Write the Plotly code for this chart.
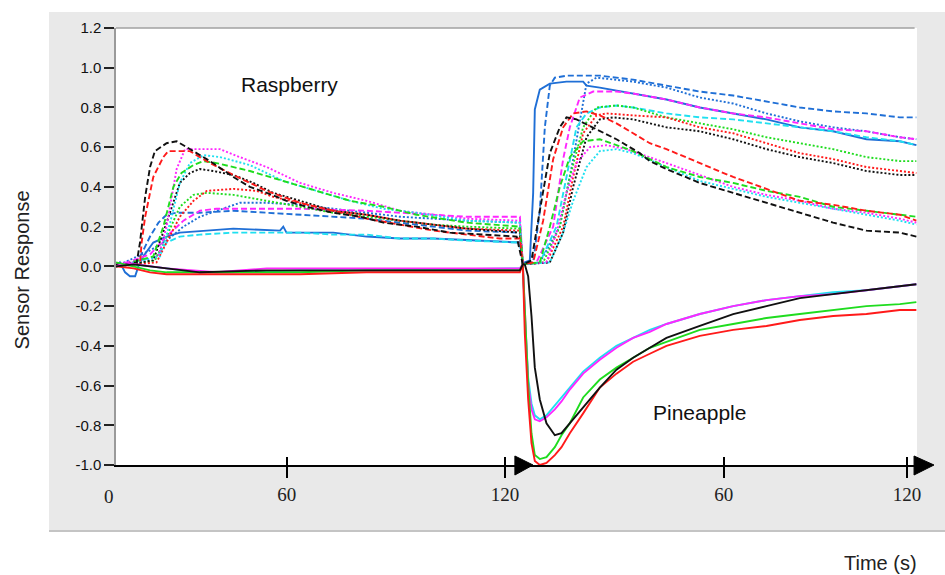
import plotly.graph_objects as go

# ---------------- data (time in s, response) ----------------
PINE_OFFSET = 125.5  # position where the pineapple exposure starts on the shared axis

Y_TICKS = [-1.0, -0.8, -0.6, -0.4, -0.2, 0.0, 0.2, 0.4, 0.6, 0.8, 1.0, 1.2]
Y_LABELS = ["-1.0", "-0.8", "-0.6", "-0.4", "-0.2", "0.0", "0.2", "0.4", "0.6", "0.8", "1.0", "1.2"]
X_TICK_POS = [52.7, 120.0, 187.5, 244.0]
X_TICK_LABELS = ["60", "120", "60", "120"]

# ---- black dashed
BK_DA_RT = [0, 6.4, 7.4, 9.0, 10.5, 12.0, 15.6, 18.7, 21.8, 24.9, 29.0, 36.2, 41.3, 46.5, 52.6, 58.8, 67.0, 75.3, 82.5, 92.7, 103.0, 113.3, 123.6]
BK_DA_RY = [0.01, 0.02, 0.12, 0.35, 0.50, 0.58, 0.62, 0.63, 0.60, 0.57, 0.53, 0.45, 0.40, 0.37, 0.33, 0.30, 0.27, 0.25, 0.22, 0.20, 0.17, 0.16, 0.15]
BK_DA_PT = [0, 2.67, 5.24, 8.33, 11.41, 13.47, 16.55, 21.70, 28.89, 36.09, 39.17, 44.31, 54.60, 64.88, 75.16, 85.44, 95.72, 106.0, 116.3, 121.4]
BK_DA_PY = [0.01, 0.03, 0.28, 0.57, 0.70, 0.75, 0.74, 0.70, 0.64, 0.57, 0.53, 0.49, 0.42, 0.37, 0.32, 0.27, 0.22, 0.18, 0.17, 0.15]
# ---- red dashed
RD_DA_RT = [0, 7.4, 7.9, 9.0, 11.5, 14.6, 16.1, 22.8, 29.0, 36.2, 46.5, 56.8, 67.0, 77.3, 87.6, 97.9, 108.2, 118.4, 124.6]
RD_DA_RY = [0.00, 0.01, 0.12, 0.25, 0.45, 0.55, 0.58, 0.58, 0.52, 0.46, 0.38, 0.32, 0.28, 0.24, 0.21, 0.18, 0.16, 0.14, 0.14]
RD_DA_PT = [0, 3.19, 6.27, 9.36, 12.44, 15.53, 19.64, 23.75, 28.89, 34.03, 39.17, 44.31, 54.60, 64.88, 75.16, 85.44, 95.72, 106.0, 116.3, 121.4]
RD_DA_PY = [0.01, 0.02, 0.23, 0.54, 0.70, 0.77, 0.78, 0.76, 0.72, 0.67, 0.62, 0.59, 0.52, 0.45, 0.39, 0.33, 0.31, 0.28, 0.26, 0.23]
# ---- green dashed
GN_DA_RT = [0, 11.5, 14.6, 17.7, 20.2, 23.9, 27.0, 31.0, 41.3, 51.6, 61.9, 72.2, 82.5, 92.7, 108.2, 124.6]
GN_DA_RY = [0.00, 0.05, 0.20, 0.40, 0.47, 0.51, 0.53, 0.52, 0.48, 0.43, 0.38, 0.33, 0.30, 0.26, 0.22, 0.20]
GN_DA_PT = [0, 5.24, 8.33, 11.41, 14.50, 18.61, 23.75, 28.89, 34.03, 44.31, 54.60, 64.88, 75.16, 85.44, 95.72, 106.0, 116.3, 121.4]
GN_DA_PY = [0.01, 0.02, 0.20, 0.40, 0.55, 0.63, 0.64, 0.61, 0.58, 0.50, 0.45, 0.42, 0.38, 0.35, 0.30, 0.28, 0.26, 0.25]
# ---- blue dashed
BL_DA_RT = [0, 6.4, 8.4, 10.5, 13.1, 15.6, 18.7, 25.9, 36.2, 46.5, 56.8, 67.0, 77.3, 87.6, 97.9, 108.2, 124.6]
BL_DA_RY = [0.00, 0.02, 0.08, 0.15, 0.22, 0.26, 0.27, 0.27, 0.28, 0.27, 0.26, 0.25, 0.24, 0.22, 0.20, 0.18, 0.17]
BL_DA_PT = [0, 3.19, 5.24, 6.79, 8.33, 9.87, 13.47, 23.75, 34.03, 44.31, 54.60, 64.88, 75.16, 85.44, 95.72, 106.0, 116.3, 121.4]
BL_DA_PY = [0.01, 0.02, 0.28, 0.70, 0.91, 0.95, 0.96, 0.96, 0.94, 0.91, 0.88, 0.86, 0.83, 0.80, 0.78, 0.77, 0.75, 0.75]
# ---- magenta dashed
MG_DA_RT = [0, 10.5, 15.6, 20.8, 25.9, 31.0, 36.2, 56.8, 77.3, 87.6, 97.9, 108.2, 124.6]
MG_DA_RY = [0.00, 0.06, 0.15, 0.23, 0.28, 0.29, 0.29, 0.29, 0.28, 0.27, 0.26, 0.25, 0.25]
MG_DA_PT = [0, 4.22, 9.36, 12.44, 14.50, 17.58, 21.70, 28.89, 34.03, 44.31, 54.60, 64.88, 75.16, 85.44, 95.72, 106.0, 116.3, 121.4]
MG_DA_PY = [0.01, 0.02, 0.20, 0.54, 0.70, 0.85, 0.88, 0.88, 0.87, 0.84, 0.80, 0.77, 0.75, 0.72, 0.69, 0.68, 0.65, 0.64]
# ---- cyan dashed
CY_DA_RT = [0, 12.5, 15.6, 19.7, 25.9, 36.2, 56.8, 67.0, 77.3, 87.6, 97.9, 108.2, 124.6]
CY_DA_RY = [0.00, 0.05, 0.12, 0.15, 0.16, 0.17, 0.17, 0.16, 0.16, 0.14, 0.14, 0.13, 0.12]
CY_DA_PT = [0, 5.24, 10.39, 13.47, 16.55, 19.64, 23.75, 28.89, 34.03, 44.31, 54.60, 64.88, 75.16, 85.44, 95.72, 106.0, 116.3, 121.4]
CY_DA_PY = [0.01, 0.02, 0.20, 0.45, 0.70, 0.77, 0.80, 0.81, 0.80, 0.77, 0.75, 0.74, 0.72, 0.70, 0.68, 0.65, 0.63, 0.61]
# ---- magenta dotted
MG_DO_RT = [0, 13.1, 15.6, 18.7, 21.3, 22.8, 32.1, 38.2, 46.5, 56.8, 67.0, 77.3, 87.6, 97.9, 108.2, 124.6]
MG_DO_RY = [0.00, 0.05, 0.20, 0.49, 0.59, 0.59, 0.59, 0.55, 0.50, 0.42, 0.37, 0.33, 0.28, 0.26, 0.24, 0.23]
MG_DO_PT = [0, 7.30, 10.39, 13.47, 16.55, 20.67, 25.81, 31.98, 39.17, 44.31, 54.60, 64.88, 75.16, 85.44, 95.72, 106.0, 116.3, 121.4]
MG_DO_PY = [0.01, 0.02, 0.17, 0.37, 0.52, 0.60, 0.61, 0.59, 0.55, 0.52, 0.46, 0.40, 0.36, 0.33, 0.29, 0.27, 0.24, 0.22]
# ---- cyan dotted
CY_DO_RT = [0, 13.6, 16.7, 19.7, 22.8, 27.0, 32.1, 41.3, 51.6, 61.9, 72.2, 82.5, 92.7, 108.2, 124.6]
CY_DO_RY = [0.00, 0.05, 0.22, 0.42, 0.52, 0.56, 0.55, 0.51, 0.43, 0.38, 0.33, 0.29, 0.27, 0.23, 0.22]
CY_DO_PT = [0, 8.33, 12.44, 15.53, 19.64, 23.75, 28.89, 34.03, 44.31, 54.60, 64.88, 75.16, 85.44, 95.72, 106.0, 116.3, 121.4]
CY_DO_PY = [0.01, 0.02, 0.17, 0.33, 0.50, 0.58, 0.59, 0.57, 0.50, 0.43, 0.39, 0.35, 0.32, 0.29, 0.26, 0.23, 0.21]
# ---- black dotted
BK_DO_RT = [0, 11.5, 15.6, 19.7, 22.8, 25.9, 30.0, 36.2, 42.4, 48.5, 56.8, 67.0, 77.3, 87.6, 97.9, 108.2, 124.6]
BK_DO_RY = [0.00, 0.03, 0.22, 0.42, 0.47, 0.49, 0.48, 0.46, 0.42, 0.37, 0.33, 0.28, 0.26, 0.23, 0.21, 0.19, 0.17]
BK_DO_PT = [0, 8.33, 12.44, 15.53, 19.64, 23.75, 27.86, 34.03, 44.31, 54.60, 64.88, 75.16, 85.44, 95.72, 106.0, 116.3, 121.4]
BK_DO_PY = [0.01, 0.02, 0.17, 0.40, 0.65, 0.74, 0.75, 0.74, 0.70, 0.68, 0.64, 0.59, 0.55, 0.52, 0.48, 0.46, 0.46]
# ---- red dotted
RD_DO_RT = [0, 12.5, 15.6, 19.7, 23.9, 28.0, 36.2, 43.4, 48.5, 56.8, 67.0, 77.3, 87.6, 97.9, 108.2, 124.6]
RD_DO_RY = [0.00, 0.02, 0.12, 0.25, 0.33, 0.38, 0.39, 0.38, 0.35, 0.32, 0.28, 0.26, 0.23, 0.21, 0.19, 0.18]
RD_DO_PT = [0, 7.30, 12.44, 15.53, 18.61, 22.72, 25.81, 34.03, 44.31, 54.60, 64.88, 75.16, 85.44, 95.72, 106.0, 116.3, 121.4]
RD_DO_PY = [0.01, 0.02, 0.20, 0.45, 0.67, 0.76, 0.77, 0.76, 0.75, 0.70, 0.67, 0.62, 0.57, 0.54, 0.50, 0.48, 0.47]
# ---- green dotted
GN_DO_RT = [0, 12.0, 15.6, 19.7, 23.9, 28.0, 36.2, 46.5, 56.8, 67.0, 77.3, 87.6, 97.9, 108.2, 124.6]
GN_DO_RY = [0.00, 0.03, 0.15, 0.30, 0.36, 0.37, 0.36, 0.33, 0.30, 0.27, 0.25, 0.23, 0.21, 0.20, 0.19]
GN_DO_PT = [0, 6.27, 11.41, 14.50, 18.61, 22.72, 28.89, 34.03, 44.31, 54.60, 64.88, 75.16, 85.44, 95.72, 106.0, 116.3, 121.4]
GN_DO_PY = [0.01, 0.02, 0.20, 0.45, 0.70, 0.80, 0.81, 0.80, 0.75, 0.72, 0.69, 0.65, 0.62, 0.59, 0.55, 0.53, 0.53]
# ---- blue dotted
BL_DO_RT = [0, 10.5, 15.6, 20.8, 25.9, 31.0, 38.2, 46.5, 56.8, 67.0, 77.3, 87.6, 97.9, 108.2, 124.6]
BL_DO_RY = [0.00, 0.08, 0.13, 0.20, 0.25, 0.28, 0.32, 0.32, 0.31, 0.29, 0.27, 0.25, 0.24, 0.23, 0.22]
BL_DO_PT = [0, 5.24, 11.41, 15.53, 18.10, 19.64, 22.72, 28.89, 34.03, 44.31, 54.60, 64.88, 75.16, 85.44, 95.72, 106.0, 116.3, 121.4]
BL_DO_PY = [0.01, 0.02, 0.20, 0.54, 0.79, 0.92, 0.95, 0.94, 0.93, 0.90, 0.85, 0.82, 0.77, 0.73, 0.70, 0.68, 0.65, 0.64]
# ---- blue solid
BL_SO_RT = [0, 1.2, 2.8, 4.3, 5.9, 6.9, 8.4, 11.5, 15.6, 19.7, 28.0, 36.2, 50.6, 51.6, 52.6, 67.0, 77.3, 87.6, 97.9, 124.6]
BL_SO_RY = [0.00, 0.02, -0.03, -0.05, -0.05, 0.00, 0.05, 0.12, 0.15, 0.17, 0.18, 0.19, 0.18, 0.20, 0.17, 0.17, 0.15, 0.14, 0.14, 0.12]
BL_SO_PT = [0, 0.62, 2.16, 3.19, 3.70, 5.24, 8.33, 13.47, 18.61, 19.64, 23.75, 34.03, 44.31, 54.60, 64.88, 75.16, 85.44, 95.72, 106.0, 116.3, 121.4]
BL_SO_PY = [0.01, 0.02, 0.03, 0.37, 0.79, 0.89, 0.92, 0.93, 0.93, 0.91, 0.90, 0.87, 0.84, 0.80, 0.77, 0.74, 0.70, 0.68, 0.64, 0.63, 0.61]
# ---- negative (solid) sensors
NEG_PT = [0, 0.62, 1.65, 2.67, 3.70, 5.24, 7.30, 9.87, 11.93, 14.50, 18.61, 23.75, 28.89, 34.03, 39.17, 44.31, 54.60, 64.88, 75.16, 85.44, 95.72, 106.0, 116.3, 121.4]
BK_SO_RT = [0, 5.4, 15.6, 25.9, 46.5, 67.0, 87.6, 124.6]
BK_SO_RY = [0.00, 0.01, -0.01, -0.03, -0.02, -0.02, -0.02, -0.02]
BK_SO_PY = [0.01, 0.01, -0.05, -0.25, -0.51, -0.67, -0.79, -0.85, -0.84, -0.79, -0.71, -0.61, -0.52, -0.46, -0.41, -0.36, -0.30, -0.24, -0.20, -0.16, -0.14, -0.12, -0.10, -0.09]
RD_SO_RT = [0, 5.4, 10.5, 15.6, 36.2, 56.8, 77.3, 97.9, 124.6]
RD_SO_RY = [0.00, -0.01, -0.03, -0.04, -0.04, -0.04, -0.03, -0.03, -0.03]
RD_SO_PY = [0.01, -0.34, -0.67, -0.89, -0.98, -1.00, -0.99, -0.95, -0.91, -0.84, -0.74, -0.61, -0.54, -0.48, -0.44, -0.40, -0.35, -0.32, -0.30, -0.27, -0.25, -0.24, -0.22, -0.22]
GN_SO_RT = [0, 5.4, 10.5, 15.6, 36.2, 56.8, 77.3, 97.9, 124.6]
GN_SO_RY = [0.02, 0.00, -0.02, -0.03, -0.03, -0.03, -0.02, -0.02, -0.02]
GN_SO_PY = [0.01, -0.25, -0.59, -0.84, -0.95, -0.97, -0.96, -0.91, -0.85, -0.79, -0.66, -0.57, -0.51, -0.46, -0.41, -0.38, -0.32, -0.29, -0.26, -0.24, -0.22, -0.20, -0.19, -0.18]
MG_SO_RT = [0, 3.0, 6.4, 15.6, 23.9, 31.0, 46.5, 67.0, 87.6, 124.6]
MG_SO_RY = [0.00, 0.02, 0.01, -0.01, -0.02, -0.03, -0.01, -0.01, -0.01, -0.01]
MG_SO_PY = [0.01, -0.25, -0.59, -0.72, -0.77, -0.78, -0.76, -0.72, -0.68, -0.62, -0.54, -0.47, -0.41, -0.36, -0.33, -0.29, -0.24, -0.20, -0.17, -0.15, -0.14, -0.12, -0.10, -0.09]
CY_SO_RT = [0, 5.4, 15.6, 25.9, 36.2, 56.8, 77.3, 124.6]
CY_SO_RY = [0.00, 0.01, -0.01, -0.03, -0.03, -0.02, -0.02, -0.01]
CY_SO_PY = [0.01, -0.25, -0.56, -0.69, -0.75, -0.77, -0.75, -0.70, -0.66, -0.61, -0.53, -0.46, -0.40, -0.36, -0.32, -0.29, -0.24, -0.20, -0.17, -0.15, -0.13, -0.12, -0.10, -0.09]

# ---------------- styling ----------------
BLACK, RED, GREEN = "#111111", "#ff1a1a", "#1fdc1f"
BLUE, MAGENTA, CYAN = "#1f6fd6", "#ff26ff", "#1fe0f0"
DASH, DOT, SOLID = "6px,3px", "2px,2px", "solid"

SENSORS = [
    (BLUE, SOLID, BL_SO_RT, BL_SO_RY, BL_SO_PT, BL_SO_PY),
    (BLUE, DASH, BL_DA_RT, BL_DA_RY, BL_DA_PT, BL_DA_PY),
    (BLUE, DOT, BL_DO_RT, BL_DO_RY, BL_DO_PT, BL_DO_PY),
    (MAGENTA, DASH, MG_DA_RT, MG_DA_RY, MG_DA_PT, MG_DA_PY),
    (CYAN, DASH, CY_DA_RT, CY_DA_RY, CY_DA_PT, CY_DA_PY),
    (GREEN, DOT, GN_DO_RT, GN_DO_RY, GN_DO_PT, GN_DO_PY),
    (RED, DOT, RD_DO_RT, RD_DO_RY, RD_DO_PT, RD_DO_PY),
    (BLACK, DOT, BK_DO_RT, BK_DO_RY, BK_DO_PT, BK_DO_PY),
    (MAGENTA, DOT, MG_DO_RT, MG_DO_RY, MG_DO_PT, MG_DO_PY),
    (CYAN, DOT, CY_DO_RT, CY_DO_RY, CY_DO_PT, CY_DO_PY),
    (GREEN, DASH, GN_DA_RT, GN_DA_RY, GN_DA_PT, GN_DA_PY),
    (RED, DASH, RD_DA_RT, RD_DA_RY, RD_DA_PT, RD_DA_PY),
    (BLACK, DASH, BK_DA_RT, BK_DA_RY, BK_DA_PT, BK_DA_PY),
    (CYAN, SOLID, CY_SO_RT, CY_SO_RY, NEG_PT, CY_SO_PY),
    (MAGENTA, SOLID, MG_SO_RT, MG_SO_RY, NEG_PT, MG_SO_PY),
    (GREEN, SOLID, GN_SO_RT, GN_SO_RY, NEG_PT, GN_SO_PY),
    (RED, SOLID, RD_SO_RT, RD_SO_RY, NEG_PT, RD_SO_PY),
    (BLACK, SOLID, BK_SO_RT, BK_SO_RY, NEG_PT, BK_SO_PY),
]

fig = go.Figure()
for color, dash, rt, ry, pt, py in SENSORS:
    xs = list(rt) + [PINE_OFFSET + t for t in pt]
    ys = list(ry) + list(py)
    fig.add_trace(go.Scatter(x=xs, y=ys, mode="lines", showlegend=False,
                             line=dict(color=color, width=1.9, dash=dash)))

# invisible trace on overlay axis so the crossing ticks are drawn
fig.add_trace(go.Scatter(x=[0, 247.1], y=[0, 0], xaxis="x2", mode="lines",
                         line=dict(width=0), showlegend=False, hoverinfo="skip"))

X_RANGE = [0, 247.1]
fig.update_layout(
    width=945, height=575,
    margin=dict(l=116, r=28, t=28, b=110),
    paper_bgcolor="white", plot_bgcolor="white",
    xaxis=dict(range=X_RANGE, tickvals=X_TICK_POS, ticktext=X_TICK_LABELS,
               ticks="outside", ticklen=11, tickwidth=2, tickcolor="black",
               showline=True, linecolor="black", linewidth=2,
               showgrid=False, zeroline=False, ticklabelstandoff=0,
               tickfont=dict(family="Liberation Serif", size=19, color="#222")),
    xaxis2=dict(range=X_RANGE, overlaying="x", anchor="y", side="bottom",
                tickvals=X_TICK_POS, showticklabels=False,
                ticks="inside", ticklen=8, tickwidth=2, tickcolor="black",
                showline=False, showgrid=False, zeroline=False),
    yaxis=dict(range=[-1.0, 1.2], tickvals=Y_TICKS, ticktext=Y_LABELS,
               ticks="outside", ticklen=10, tickwidth=2, tickcolor="#222",
               showline=True, linecolor="#9a9a9a", linewidth=1.5,
               showgrid=False, zeroline=False,
               tickfont=dict(family="Liberation Sans", size=15, color="#111")),
    shapes=[
        dict(type="rect", xref="paper", yref="paper", x0=-0.0836, x1=1.06, y0=-0.151, y1=1.0366,
             fillcolor="#e9e9e9", line=dict(width=0), layer="below"),
        dict(type="line", xref="paper", yref="paper", x0=-0.0836, x1=1.06, y0=-0.151, y1=-0.151,
             line=dict(color="#c4c4c4", width=2), layer="below"),
        dict(type="rect", xref="paper", yref="paper", x0=0, x1=1, y0=0, y1=1,
             fillcolor="white", line=dict(width=0), layer="below"),
        dict(type="line", xref="paper", yref="paper", x0=0, x1=0.997, y0=1, y1=1,
             line=dict(color="#a0a0a0", width=1.5), layer="above"),
        dict(type="path", xref="paper", yref="paper",
             path="M 0.498 0.0206 L 0.498 -0.0229 L 0.5206 0 Z",
             fillcolor="black", line=dict(color="black", width=1), layer="above"),
        dict(type="path", xref="paper", yref="paper",
             path="M 0.9963 0.0206 L 0.9963 -0.0229 L 1.0212 0 Z",
             fillcolor="black", line=dict(color="black", width=1), layer="above"),
    ],
    annotations=[
        dict(text="Raspberry", xref="paper", yref="paper", x=0.217, y=0.870, showarrow=False,
             xanchor="center", yanchor="middle",
             font=dict(family="Liberation Sans", size=21, color="#111")),
        dict(text="Pineapple", xref="paper", yref="paper", x=0.729, y=0.119, showarrow=False,
             xanchor="center", yanchor="middle",
             font=dict(family="Liberation Sans", size=21, color="#111")),
        dict(text="Sensor Response", xref="paper", yref="paper", x=-0.117, y=0.446, showarrow=False,
             xanchor="center", yanchor="middle",
             textangle=-90, font=dict(family="Liberation Sans", size=20, color="#222")),
        dict(text="Time (s)", xref="paper", yref="paper", x=0.954, y=-0.224, showarrow=False,
             xanchor="center", yanchor="middle",
             font=dict(family="Liberation Sans", size=20, color="#222")),
        dict(text="0", xref="paper", yref="paper", x=-0.0087, y=-0.073, showarrow=False,
             xanchor="center", yanchor="middle",
             font=dict(family="Liberation Serif", size=19, color="#222")),
    ],
)

# remove the browser's default 8px page margin so the 945x575 figure fills the window exactly
fig.write_html("out.html", config={"displayModeBar": False},
               post_script="document.body.style.margin='0';document.body.style.overflow='hidden';")
